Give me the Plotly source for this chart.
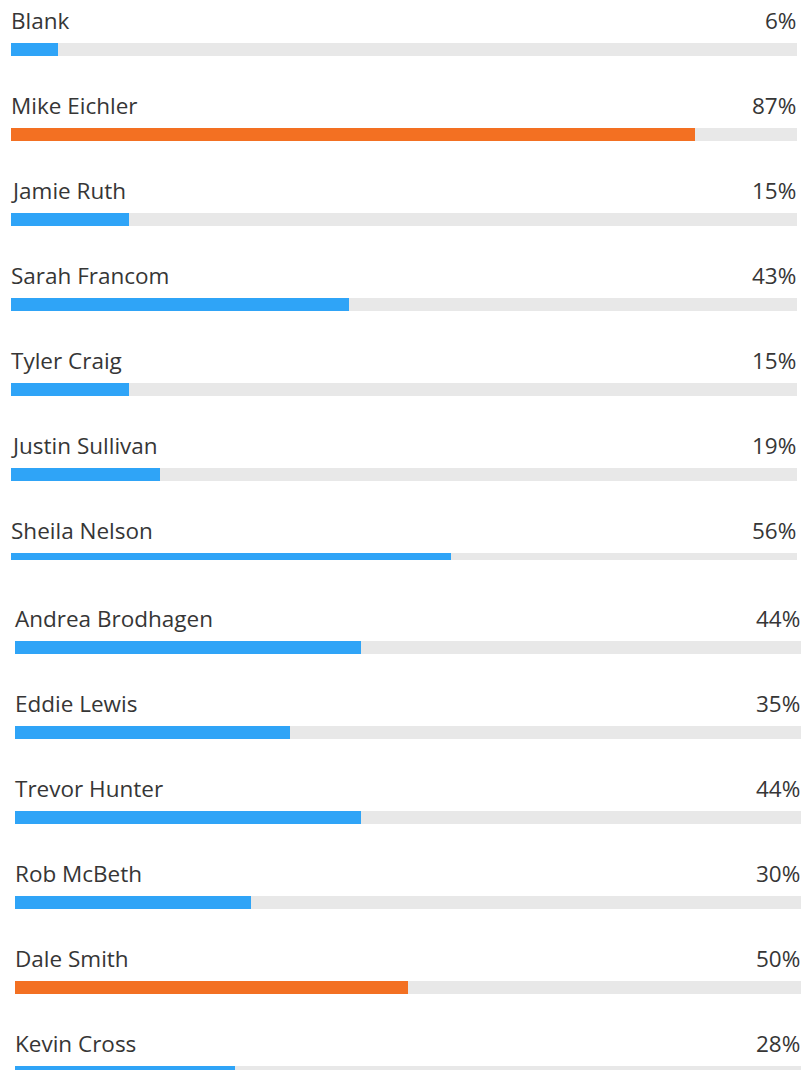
import plotly.graph_objects as go

# ---- data ----
names_top = ["Blank", "Mike Eichler", "Jamie Ruth", "Sarah Francom",
             "Tyler Craig", "Justin Sullivan", "Sheila Nelson"]
values_top = [6, 87, 15, 43, 15, 19, 56]
names_bottom = ["Andrea Brodhagen", "Eddie Lewis", "Trevor Hunter",
                "Rob McBeth", "Dale Smith", "Kevin Cross"]
values_bottom = [44, 35, 44, 30, 50, 28]
highlighted = ["Mike Eichler", "Dale Smith"]

# ---- style ----
W, H = 804, 1070
BLUE = "#2FA4F7"
ORANGE = "#F37022"
TRACK = "#E8E8E8"
TEXT = "#363636"
FONT = "Open Sans"
FSIZE = 22.5
PITCH = 85
BAR_H = 13
SPLIT = 560

panels = [
    dict(names=names_top, values=values_top, first_top=43, x0=11, x1=797,
         ypx=(0, SPLIT), xa="x", ya="y"),
    dict(names=names_bottom, values=values_bottom, first_top=641, x0=15, x1=801,
         ypx=(SPLIT, H), xa="x2", ya="y2"),
]

fig = go.Figure()
annotations = []
for p in panels:
    n = len(p["names"])
    centres = [p["first_top"] + PITCH * i + BAR_H / 2 for i in range(n)]
    colors = [ORANGE if nm in highlighted else BLUE for nm in p["names"]]
    fig.add_trace(go.Bar(
        x=[100] * n, y=centres, orientation="h", width=BAR_H,
        marker=dict(color=TRACK, line=dict(width=0)),
        xaxis=p["xa"], yaxis=p["ya"], hoverinfo="skip", showlegend=False))
    fig.add_trace(go.Bar(
        x=p["values"], y=centres, orientation="h", width=BAR_H,
        marker=dict(color=colors, line=dict(width=0)),
        xaxis=p["xa"], yaxis=p["ya"], showlegend=False,
        hovertext=p["names"], hoverinfo="text+x"))
    for nm, v, c in zip(p["names"], p["values"], centres):
        ytxt = c - BAR_H / 2 - 23
        annotations.append(dict(
            x=0, y=ytxt, xref=p["xa"], yref=p["ya"], text=nm, xshift=-2,
            xanchor="left", yanchor="middle", showarrow=False,
            font=dict(family=FONT, size=FSIZE, color=TEXT)))
        annotations.append(dict(
            x=100, y=ytxt, xref=p["xa"], yref=p["ya"], text=f"{v}%", xshift=1,
            xanchor="right", yanchor="middle", showarrow=False,
            font=dict(family=FONT, size=FSIZE, color=TEXT)))

def xdom(p):
    return [p["x0"] / W, p["x1"] / W]

def ydom(p):
    return [1 - p["ypx"][1] / H, 1 - p["ypx"][0] / H]

axis_common = dict(showgrid=False, zeroline=False, showticklabels=False,
                   showline=False, ticks="", fixedrange=True)

fig.update_layout(
    width=W, height=H, margin=dict(l=0, r=0, t=0, b=0),
    paper_bgcolor="white", plot_bgcolor="white",
    barmode="overlay", bargap=0,
    xaxis=dict(domain=xdom(panels[0]), range=[0, 100], anchor="y", **axis_common),
    yaxis=dict(domain=ydom(panels[0]), range=[panels[0]["ypx"][1], panels[0]["ypx"][0]],
               anchor="x", **axis_common),
    xaxis2=dict(domain=xdom(panels[1]), range=[0, 100], anchor="y2", **axis_common),
    yaxis2=dict(domain=ydom(panels[1]), range=[panels[1]["ypx"][1], panels[1]["ypx"][0]],
                anchor="x2", **axis_common),
    annotations=annotations,
)

fig.write_html("out.html")
